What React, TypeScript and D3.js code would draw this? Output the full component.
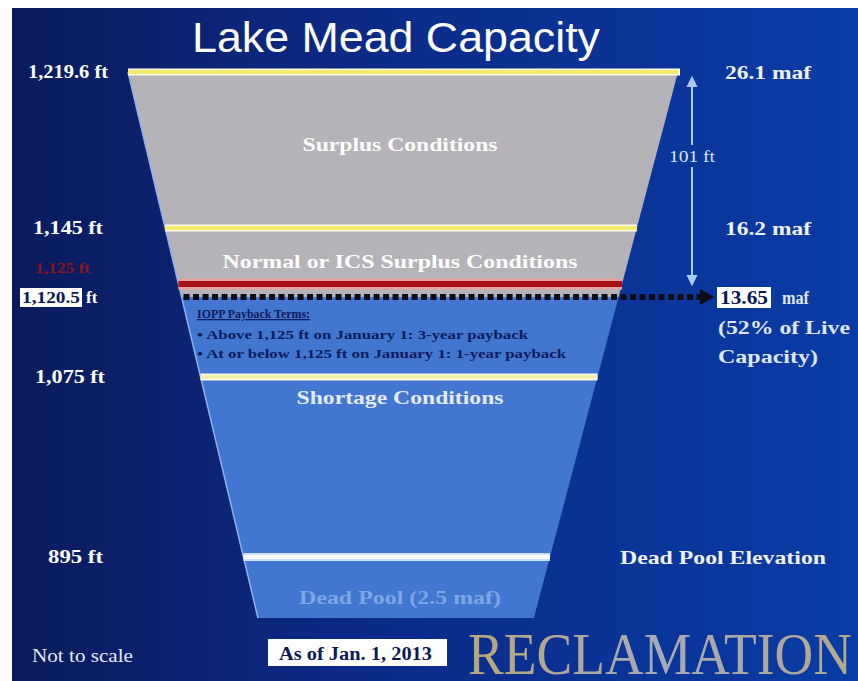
import React from "react";
import * as d3 from "d3";

// elevations (ft) of the marked levels, top to bottom
const elevations = [1219.6, 1145, 1125, 1120.5, 1075, 895];
const elevationLabels = ["1,219.6 ft", "1,145 ft", "1,125 ft", "1,120.5", "1,075 ft", "895 ft"];
const storageLabels = ["26.1 maf", "16.2 maf", "", "13.65", "", "Dead Pool Elevation"];
const lineKinds = ["yellow", "yellow", "red", "current", "pale", "white"];

// zones between levels
const zoneNames = ["Surplus Conditions", "Normal or ICS Surplus Conditions", "Shortage Conditions", "Dead Pool (2.5 maf)"];
const zoneTops = [1219.6, 1145, 1075, 895];

const ioppLines = [
  "• Above 1,125 ft on January 1: 3-year payback",
  "• At or below 1,125 ft on January 1: 1-year payback",
];

const W = 858;
const H = 681;

const App: React.FC = () => {
  // not to scale: piecewise mapping of elevation to screen position
  const y = d3
    .scaleLinear()
    .domain(elevations)
    .range([72, 228, 284, 297, 377, 557]);
  const bottomY = 618;
  const topY = y(1219.6);
  const xl = (v: number) => 128 + (v - topY) * 0.238;
  const xr = (v: number) => 678 - (v - topY) * 0.264;

  const trap = (y0: number, y1: number) =>
    d3.line()([
      [xl(y0), y0],
      [xr(y0), y0],
      [xr(y1), y1],
      [xl(y1), y1],
    ]) + "Z";

  const serif = "'Liberation Serif', 'DejaVu Serif', serif";
  const yCur = y(1120.5);
  const yRed = y(1125);
  const sg = "spacingAndGlyphs";

  // label widths measured off the slide
  const elevWidths = [80, 70, 55, 58, 70, 55];
  const elevX = [28, 33, 35, 22, 35, 48];
  const zoneWidths = [195, 355, 207, 202];
  const zoneDy = [79, 40, 27, 47];
  const zoneFill = ["#ffffff", "#ffffff", "#e4ecfb", "#7ea6e6"];

  return (
    <svg width={W} height={H} style={{ position: "absolute", left: 0, top: 0 }}>
      <defs>
        <linearGradient id="bg" x1="0" x2="1" y1="0" y2="0">
          <stop offset="0" stopColor="#0b1b5c" />
          <stop offset="0.4" stopColor="#0b2a86" />
          <stop offset="1" stopColor="#0a3ca6" />
        </linearGradient>
        <linearGradient id="rec" x1="0" x2="1" y1="0" y2="0">
          <stop offset="0" stopColor="#b7a877" />
          <stop offset="0.5" stopColor="#a6a9b8" />
          <stop offset="1" stopColor="#b3a889" />
        </linearGradient>
      </defs>
      <rect width={W} height={H} fill="#ffffff" />
      <rect x={12} y={8} width={W - 12} height={H - 8} fill="url(#bg)" />

      {/* funnel: grey above current level, blue below */}
      <path d={trap(topY, yCur)} fill="#b5b3b7" />
      <path d={trap(yCur, bottomY)} fill="#4276d0" />
      <path
        d={d3.line()([[xl(topY), topY], [xl(bottomY), bottomY]]) || ""}
        stroke="#8fb2ee"
        strokeWidth={1.5}
      />

      {/* level lines */}
      {elevations.map((e, i) => {
        const yy = y(e);
        const k = lineKinds[i];
        if (k === "yellow" || k === "pale") {
          return (
            <g key={i}>
              <line x1={xl(yy)} x2={xr(yy) + (i === 0 ? 2 : 0)} y1={yy} y2={yy} stroke="#fffbe0" strokeWidth={7} />
              <line x1={xl(yy)} x2={xr(yy)} y1={yy} y2={yy} stroke={k === "yellow" ? "#f3ea70" : "#f4efb0"} strokeWidth={4} />
            </g>
          );
        }
        if (k === "red") {
          return (
            <g key={i}>
              <line x1={xl(yy)} x2={xr(yy)} y1={yy} y2={yy} stroke="#e9a2a2" strokeWidth={11} />
              <line x1={xl(yy)} x2={xr(yy)} y1={yy} y2={yy} stroke="#a31114" strokeWidth={6} />
            </g>
          );
        }
        if (k === "white") {
          return (
            <g key={i}>
              <line x1={xl(yy)} x2={xr(yy)} y1={yy} y2={yy} stroke="#cfe0fb" strokeWidth={8} />
              <line x1={xl(yy)} x2={xr(yy)} y1={yy} y2={yy} stroke="#ffffff" strokeWidth={4} />
            </g>
          );
        }
        // current elevation: dotted arrow out to storage label
        return (
          <g key={i}>
            <line x1={xl(yy) + 2} x2={702} y1={yy} y2={yy} stroke="#0d0d18" strokeWidth={6} strokeDasharray="6,3.5" />
            <path d={`M700,${yy - 8}L714,${yy}L700,${yy + 8}Z`} fill="#0d0d18" />
          </g>
        );
      })}

      {/* 101 ft span */}
      <g stroke="#a9c8f2" strokeWidth={2} fill="#a9c8f2">
        <line x1={692} x2={692} y1={y(1219.6) + 10} y2={145} />
        <line x1={692} x2={692} y1={167} y2={y(1125) - 4} />
        <path d={`M688,${topY + 14}L692,${topY + 6}L696,${topY + 14}Z`} />
        <path d={`M688,${yRed - 8}L692,${yRed}L696,${yRed - 8}Z`} />
      </g>
      <text x={669} y={162} fill="#d7e4fa" fontFamily={serif} fontSize={17} textLength={46} lengthAdjust={sg}>
        101 ft
      </text>

      {/* title */}
      <text x={396} y={52} textAnchor="middle" fill="#ffffff" fontFamily="'Liberation Sans', Arial, sans-serif" fontSize={42} textLength={408} lengthAdjust={sg}>
        Lake Mead Capacity
      </text>

      {/* elevation labels */}
      {elevations.map((e, i) => {
        const yy = y(e);
        const lbl = elevationLabels[i];
        if (i === 2) {
          return (
            <text key={i} x={elevX[i]} y={yy - 11} fill="#8c1418" fontFamily={serif} fontWeight="bold" fontSize={15} textLength={elevWidths[i]} lengthAdjust={sg}>
              {lbl}
            </text>
          );
        }
        if (i === 3) {
          return (
            <g key={i}>
              <rect x={20} y={yy - 9} width={62} height={19} fill="#ffffff" />
              <text x={elevX[i]} y={yy + 6} fill="#0b1a55" fontFamily={serif} fontWeight="bold" fontSize={17} textLength={elevWidths[i]} lengthAdjust={sg}>
                {lbl}
              </text>
              <text x={86} y={yy + 6} fill="#ffffff" fontFamily={serif} fontWeight="bold" fontSize={17}>
                ft
              </text>
            </g>
          );
        }
        return (
          <text key={i} x={elevX[i]} y={yy + 6} fill="#ffffff" fontFamily={serif} fontWeight="bold" fontSize={18} textLength={elevWidths[i]} lengthAdjust={sg}>
            {lbl}
          </text>
        );
      })}

      {/* storage labels */}
      {elevations.map((e, i) => {
        const yy = y(e);
        const lbl = storageLabels[i];
        if (!lbl) return null;
        if (i === 3) {
          return (
            <g key={i}>
              <rect x={717} y={yy - 10} width={54} height={21} fill="#ffffff" />
              <text x={720} y={yy + 7} fill="#0b1a55" fontFamily={serif} fontWeight="bold" fontSize={19} textLength={48} lengthAdjust={sg}>
                {lbl}
              </text>
              <text x={782} y={yy + 7} fill="#dfe7f7" fontFamily={serif} fontWeight="bold" fontSize={18} textLength={27} lengthAdjust={sg}>
                maf
              </text>
              <text x={718} y={yy + 37} fill="#dfe7f7" fontFamily={serif} fontWeight="bold" fontSize={19} textLength={132} lengthAdjust={sg}>
                (52% of Live
              </text>
              <text x={718} y={yy + 66} fill="#dfe7f7" fontFamily={serif} fontWeight="bold" fontSize={19} textLength={100} lengthAdjust={sg}>
                Capacity)
              </text>
            </g>
          );
        }
        return (
          <text key={i} x={i === 5 ? 620 : 725} y={yy + 7} fill="#eef2fb" fontFamily={serif} fontWeight="bold" fontSize={19} textLength={i === 5 ? 206 : 86} lengthAdjust={sg}>
            {lbl}
          </text>
        );
      })}

      {/* zone names */}
      {zoneNames.map((n, i) => {
        const yy = y(zoneTops[i]);
        return (
          <text key={n} x={400 - zoneWidths[i] / 2} y={yy + zoneDy[i]} fill={zoneFill[i]} fontFamily={serif} fontWeight="bold" fontSize={19} textLength={zoneWidths[i]} lengthAdjust={sg}>
            {n}
          </text>
        );
      })}

      {/* IOPP note */}
      <text x={197} y={yCur + 21} fill="#0c1a5e" fontFamily={serif} fontWeight="bold" fontSize={13} textDecoration="underline" textLength={113} lengthAdjust={sg}>
        IOPP Payback Terms:
      </text>
      {ioppLines.map((t, i) => (
        <text key={t} x={197} y={yCur + 42 + i * 19} fill="#0c1a5e" fontFamily={serif} fontWeight="bold" fontSize={13} textLength={[331, 369][i]} lengthAdjust={sg}>
          {t}
        </text>
      ))}

      {/* footer */}
      <text x={32} y={662} fill="#e2e8f5" fontFamily={serif} fontSize={18} textLength={101} lengthAdjust={sg}>
        Not to scale
      </text>
      <rect x={268} y={639} width={179} height={27} fill="#ffffff" />
      <text x={279} y={660} fill="#0b1a55" fontFamily={serif} fontWeight="bold" fontSize={18} textLength={153} lengthAdjust={sg}>
        As of Jan. 1, 2013
      </text>
      <text x={468} y={674} fill="url(#rec)" fontFamily={serif} fontSize={60} textLength={384} lengthAdjust={sg}>
        RECLAMATION
      </text>
    </svg>
  );
};

export default App;
